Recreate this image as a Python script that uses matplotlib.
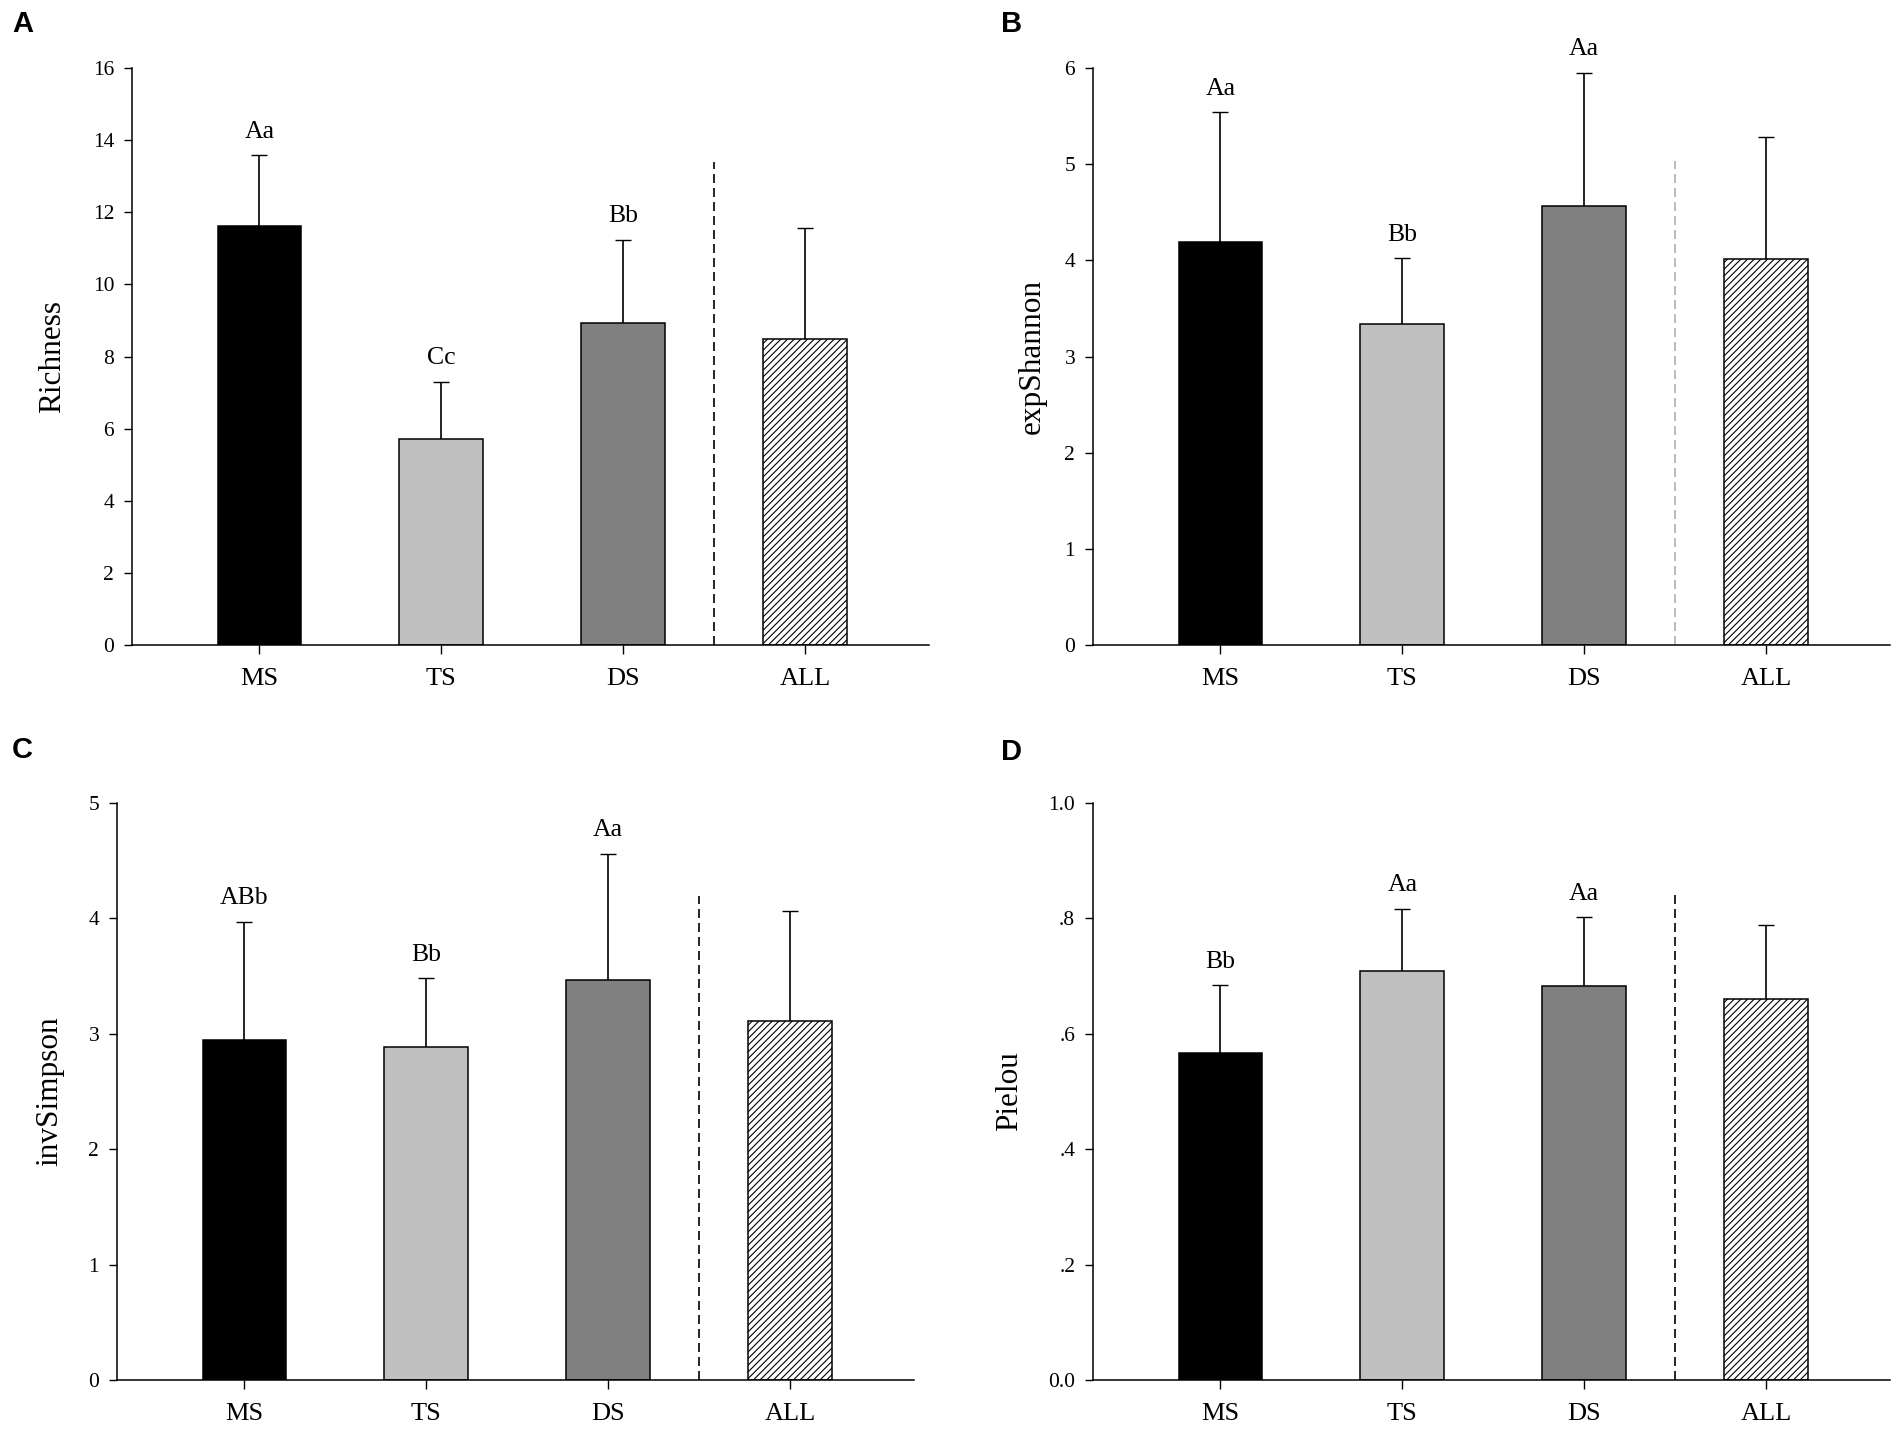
import numpy as np
import matplotlib
matplotlib.use("Agg")
import matplotlib.pyplot as plt

groups = ["MS", "TS", "DS", "ALL"]

richness = [11.63, 5.70, 8.93, 8.48]
richness_err = [13.58, 7.30, 11.23, 11.57]
richness_sig = ["Aa", "Cc", "Bb", ""]

shannon = [4.19, 3.335, 4.57, 4.01]
shannon_err = [5.54, 4.02, 5.95, 5.28]
shannon_sig = ["Aa", "Bb", "Aa", ""]

simpson = [2.95, 2.885, 3.47, 3.11]
simpson_err = [3.97, 3.48, 4.56, 4.06]
simpson_sig = ["ABb", "Bb", "Aa", ""]

pielou = [0.567, 0.708, 0.683, 0.660]
pielou_err = [0.684, 0.817, 0.802, 0.788]
pielou_sig = ["Bb", "Aa", "Aa", ""]

plt.rcParams["font.family"] = ["Liberation Serif", "DejaVu Serif"]
plt.rcParams["hatch.linewidth"] = 0.8

W, H = 1904, 1433
fig = plt.figure(figsize=(W / 100, H / 100), dpi=100)

bar_colors = ["black", "#c0c0c0", "#808080", "white"]
hatches = [None, None, None, "/////"]


def panel(left, bottom, letter, letter_xy, vals, errs, sigs, ylabel, ymax, step,
          ticklabels, dash_top, dash_color, label_off):
    ax = fig.add_axes([left / W, (H - bottom) / H, 797 / W, 577 / H])
    x = np.arange(len(groups))
    for i in range(len(groups)):
        ax.bar(x[i], vals[i], width=0.46, color=bar_colors[i], edgecolor="black",
               linewidth=1.1, hatch=hatches[i], zorder=2)
    upper = np.array(errs) - np.array(vals)
    eb = ax.errorbar(x, vals, yerr=[np.zeros(len(vals)), upper], fmt="none",
                     ecolor="black", elinewidth=1.2, capsize=6.1, capthick=1.0,
                     zorder=3)
    for cl in eb[1]:
        if np.allclose(cl.get_ydata(), vals):
            cl.set_visible(False)
    for i, s in enumerate(sigs):
        if s:
            ax.annotate(s, (x[i], errs[i]), xytext=(0, 17), textcoords="offset points",
                        ha="center", va="center", fontsize=18.5)
    ax.vlines(2.5, 0, dash_top, colors=dash_color, linewidth=1.2,
              linestyles=(0, (5.4, 3.0)), zorder=1)
    ax.set_xlim(-0.70, 3.68)
    ax.set_ylim(0, ymax)
    ax.set_xticks(x)
    ax.set_xticklabels(groups, fontsize=19)
    ticks = np.arange(0, ymax + step / 2, step)
    ax.set_yticks(ticks)
    ax.set_yticklabels(ticklabels, fontsize=15.5)
    for sp in ["top", "right"]:
        ax.spines[sp].set_visible(False)
    for sp in ["left", "bottom"]:
        ax.spines[sp].set_linewidth(1.1)
    ax.tick_params(axis="y", direction="out", length=5.8, width=1.0, pad=7)
    ax.tick_params(axis="x", direction="out", length=6.5, width=1.0, pad=10)
    ax.set_ylabel(ylabel, fontsize=22.5)
    ax.yaxis.set_label_coords(-label_off / 797, 0.5)
    ax.yaxis.label.set_verticalalignment("center")
    fig.text(letter_xy[0] / W, 1 - letter_xy[1] / H, letter, ha="left", va="top",
             fontsize=21, fontweight="bold", family=["Liberation Sans", "DejaVu Sans"])
    return ax


panel(132, 645, "A", (12, 10), richness, richness_err, richness_sig, "Richness",
      16, 2, [str(v) for v in range(0, 17, 2)], 13.4, "black", 79)
panel(1093, 645, "B", (1001, 10), shannon, shannon_err, shannon_sig, "expShannon",
      6, 1, [str(v) for v in range(0, 7)], 5.03, "#b0b0b0", 61)
panel(117, 1380, "C", (12, 736), simpson, simpson_err, simpson_sig, "invSimpson",
      5, 1, [str(v) for v in range(0, 6)], 4.19, "black", 67)
panel(1093, 1380, "D", (1001, 738), pielou, pielou_err, pielou_sig, "Pielou",
      1.0, 0.2, ["0.0", ".2", ".4", ".6", ".8", "1.0"], 0.847, "black", 83)

fig.savefig("out.png", dpi=100, facecolor="white")
